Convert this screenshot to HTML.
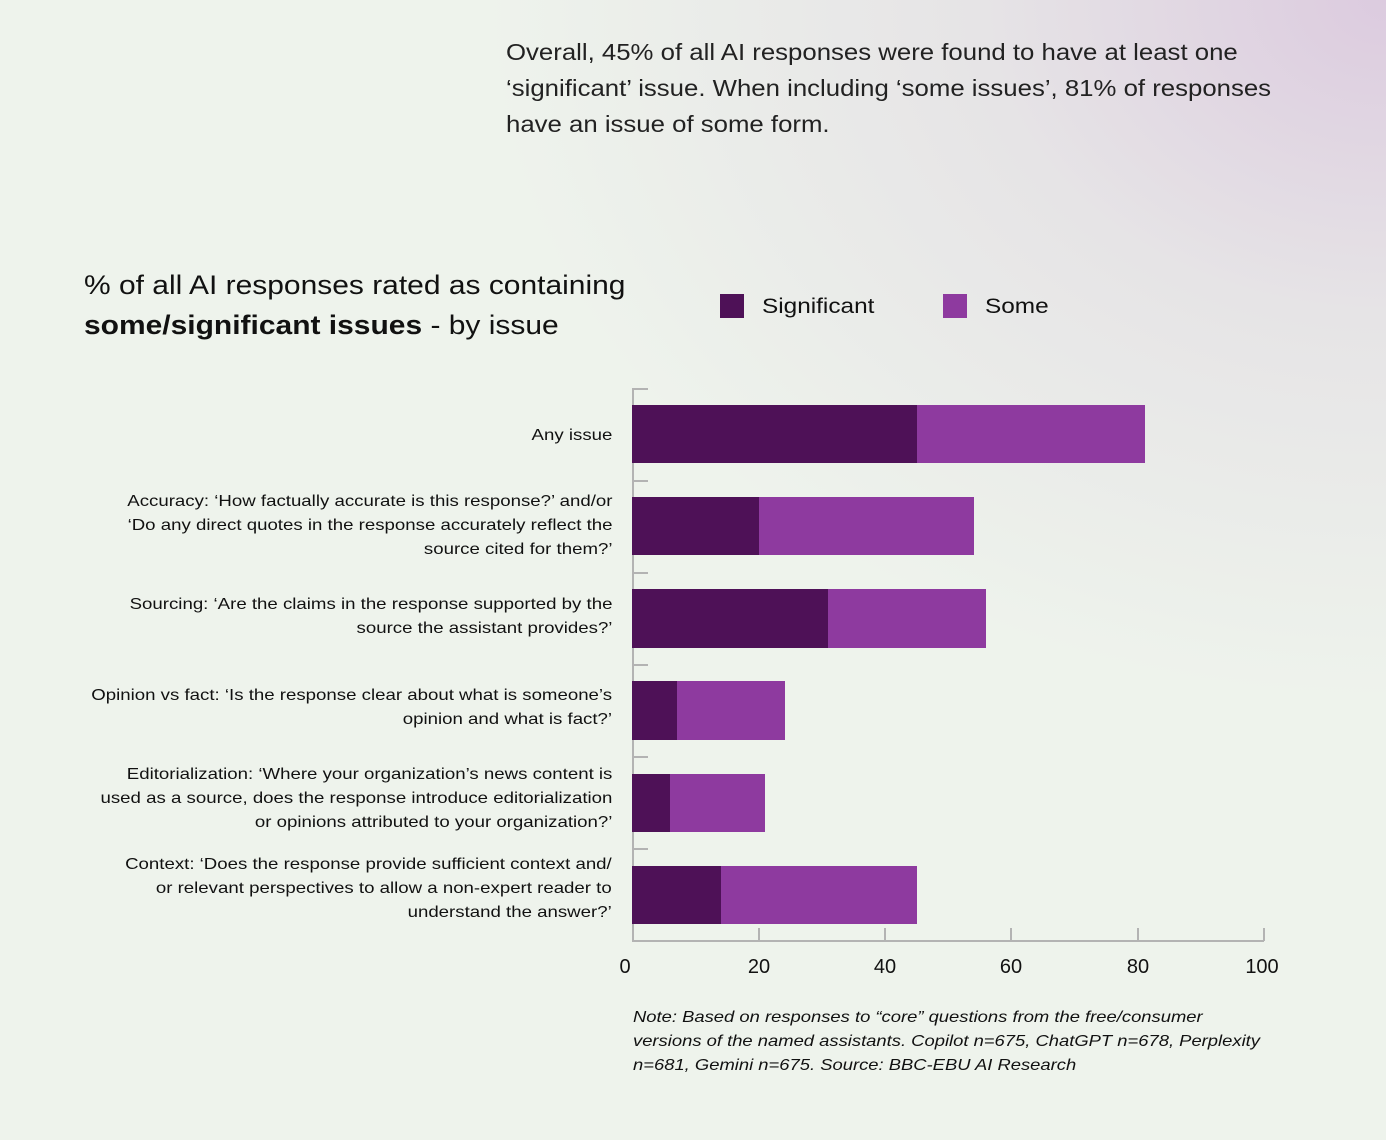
<!DOCTYPE html>
<html><head><meta charset="utf-8"><style>
body{margin:0;width:1386px;height:1140px;overflow:hidden;font-family:"Liberation Sans",sans-serif;color:#111;
background:radial-gradient(ellipse 900px 700px at 1386px 0px,#dccbdf 0%,#e6e4e6 45%,rgba(236,240,234,0) 100%),#eef3ec;position:relative}
.t{position:absolute;white-space:nowrap;transform-origin:0 0}
.lab{position:absolute;right:774px;text-align:right;font-size:16px;line-height:24px;white-space:nowrap;transform:scaleX(1.165);transform-origin:100% 0}
</style></head><body>
<div class="t" style="left:506px;top:34px;font-size:23px;line-height:36px;color:#222;transform:scaleX(1.12)">Overall, 45% of all AI responses were found to have at least one<br>‘significant’ issue. When including ‘some issues’, 81% of responses<br>have an issue of some form.</div>
<div class="t" style="left:84px;top:265px;font-size:27px;line-height:40px;transform:scaleX(1.11)">% of all AI responses rated as containing<br><b>some/significant issues</b> - by issue</div>
<div style="position:absolute;left:720px;top:294px;width:24px;height:24px;background:#4e1157"></div>
<div class="t" style="left:762px;top:295px;font-size:21px;transform:scaleX(1.16)">Significant</div>
<div style="position:absolute;left:943px;top:294px;width:24px;height:24px;background:#8e3a9f"></div>
<div class="t" style="left:985px;top:295px;font-size:21px;transform:scaleX(1.16)">Some</div>

<svg style="position:absolute;left:0;top:0" width="1386" height="1140">
<g fill="none" stroke="#b3b3b3" stroke-width="2">
<path d="M648 389H633V941H1264"/>
<path d="M633 481H648M633 573H648M633 665H648M633 757H648M633 849H648"/>
<path d="M759 941V928M885 941V928M1011 941V928M1138 941V928M1264 941V928"/>
</g>
<g>
<rect x="632" y="405" width="285" height="58" fill="#4e1157"/><rect x="917" y="405" width="228" height="58" fill="#8e3a9f"/>
<rect x="632" y="497" width="127" height="58" fill="#4e1157"/><rect x="759" y="497" width="215" height="58" fill="#8e3a9f"/>
<rect x="632" y="589" width="196" height="59" fill="#4e1157"/><rect x="828" y="589" width="158" height="59" fill="#8e3a9f"/>
<rect x="632" y="681" width="45" height="59" fill="#4e1157"/><rect x="677" y="681" width="108" height="59" fill="#8e3a9f"/>
<rect x="632" y="774" width="38" height="58" fill="#4e1157"/><rect x="670" y="774" width="95" height="58" fill="#8e3a9f"/>
<rect x="632" y="866" width="89" height="58" fill="#4e1157"/><rect x="721" y="866" width="196" height="58" fill="#8e3a9f"/>
</g>
<g font-family="Liberation Sans,sans-serif" font-size="20" fill="#111" text-anchor="middle">
<text x="625" y="973">0</text><text x="759" y="973">20</text><text x="885" y="973">40</text><text x="1011" y="973">60</text><text x="1138" y="973">80</text><text x="1262" y="973">100</text>
</g>
</svg>

<div class="lab" style="top:424px">Any issue</div>
<div class="lab" style="top:490px">Accuracy: ‘How factually accurate is this response?’ and/or<br>‘Do any direct quotes in the response accurately reflect the<br>source cited for them?’</div>
<div class="lab" style="top:593px">Sourcing: ‘Are the claims in the response supported by the<br>source the assistant provides?’</div>
<div class="lab" style="top:684px">Opinion vs fact: ‘Is the response clear about what is someone’s<br>opinion and what is fact?’</div>
<div class="lab" style="top:763px">Editorialization: ‘Where your organization’s news content is<br>used as a source, does the response introduce editorialization<br>or opinions attributed to your organization?’</div>
<div class="lab" style="top:853px">Context: ‘Does the response provide sufficient context and/<br>or relevant perspectives to allow a non-expert reader to<br>understand the answer?’</div>

<div class="t" style="left:633px;top:1006px;font-size:16px;line-height:24px;font-style:italic;transform:scaleX(1.15)">Note: Based on responses to “core” questions from the free/consumer<br>versions of the named assistants. Copilot n=675, ChatGPT n=678, Perplexity<br>n=681, Gemini n=675. Source: BBC-EBU AI Research</div>
</body></html>
